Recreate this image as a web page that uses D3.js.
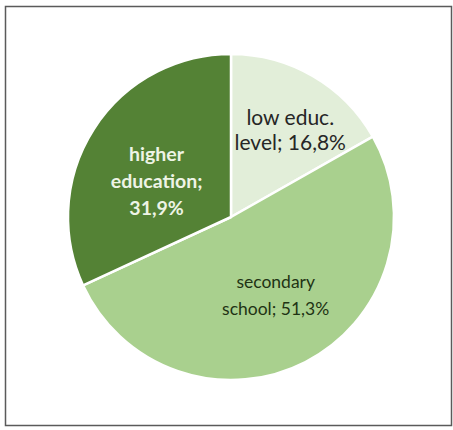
<!DOCTYPE html>
<html>
<head>
<meta charset="utf-8">
<script src="https://cdn.jsdelivr.net/npm/d3@7"></script>
<style>
  html, body { margin: 0; padding: 0; background: #ffffff; }
  svg { display: block; }
</style>
</head>
<body>
<svg id="chart" width="453" height="430"></svg>
<script>
// Share of respondents by education level (percent)
const categories = ["low educ.", "secondary school", "higher education"];
const values = [16.8, 51.3, 31.9];
const labelLines = [
  ["low educ.", "level; 16,8%"],
  ["secondary", "school; 51,3%"],
  ["higher", "education;", "31,9%"]
];

const sliceColors = ["#e2eed9", "#a9d08e", "#548235"];
const textColors = ["#262626", "#1f3314", "#eef4e6"];
const textWeights = ["normal", "normal", "bold"];
const fontSizes = [21, 17.5, 19.5];
const lineGap = [25, 27, 27];
// label nudges relative to the label arc centroid
const nudges = [[10, -2], [0, -9], [8, 17]];

const svg = d3.select("#chart");

// frame around the chart
svg.append("rect")
  .attr("x", 5.5).attr("y", 6.5)
  .attr("width", 446).attr("height", 419)
  .attr("fill", "#ffffff")
  .attr("stroke", "#5a5a5a")
  .attr("stroke-width", 1.5);

const cx = 231, cy = 217, R = 163;
const g = svg.append("g").attr("transform", `translate(${cx},${cy})`);

const pie = d3.pie().sort(null).value(d => d);
const arcs = pie(values);
const arc = d3.arc().innerRadius(0).outerRadius(R);
const labelArc = d3.arc().innerRadius(R * 0.6).outerRadius(R * 0.6);

g.selectAll("path.slice")
  .data(arcs)
  .join("path")
  .attr("class", "slice")
  .attr("d", arc)
  .attr("fill", (d, i) => sliceColors[i])
  .attr("stroke", "#ffffff")
  .attr("stroke-width", 2.5)
  .attr("stroke-linejoin", "round");

const labels = g.selectAll("text.label")
  .data(arcs)
  .join("text")
  .attr("class", "label")
  .attr("text-anchor", "middle")
  .attr("font-family", "Lato, 'Open Sans', sans-serif")
  .attr("font-size", (d, i) => fontSizes[i])
  .attr("font-weight", (d, i) => textWeights[i])
  .attr("fill", (d, i) => textColors[i])
  .attr("transform", (d, i) => {
    const [x, y] = labelArc.centroid(d);
    return `translate(${x + nudges[i][0]},${y + nudges[i][1]})`;
  });

labels.each(function(d, i) {
  const lines = labelLines[i];
  const n = lines.length;
  d3.select(this).selectAll("tspan")
    .data(lines)
    .join("tspan")
    .attr("x", 0)
    .attr("y", (t, k) => (k - (n - 1) / 2) * lineGap[i])
    .attr("dy", "0.35em")
    .text(t => t);
});
</script>
</body>
</html>
